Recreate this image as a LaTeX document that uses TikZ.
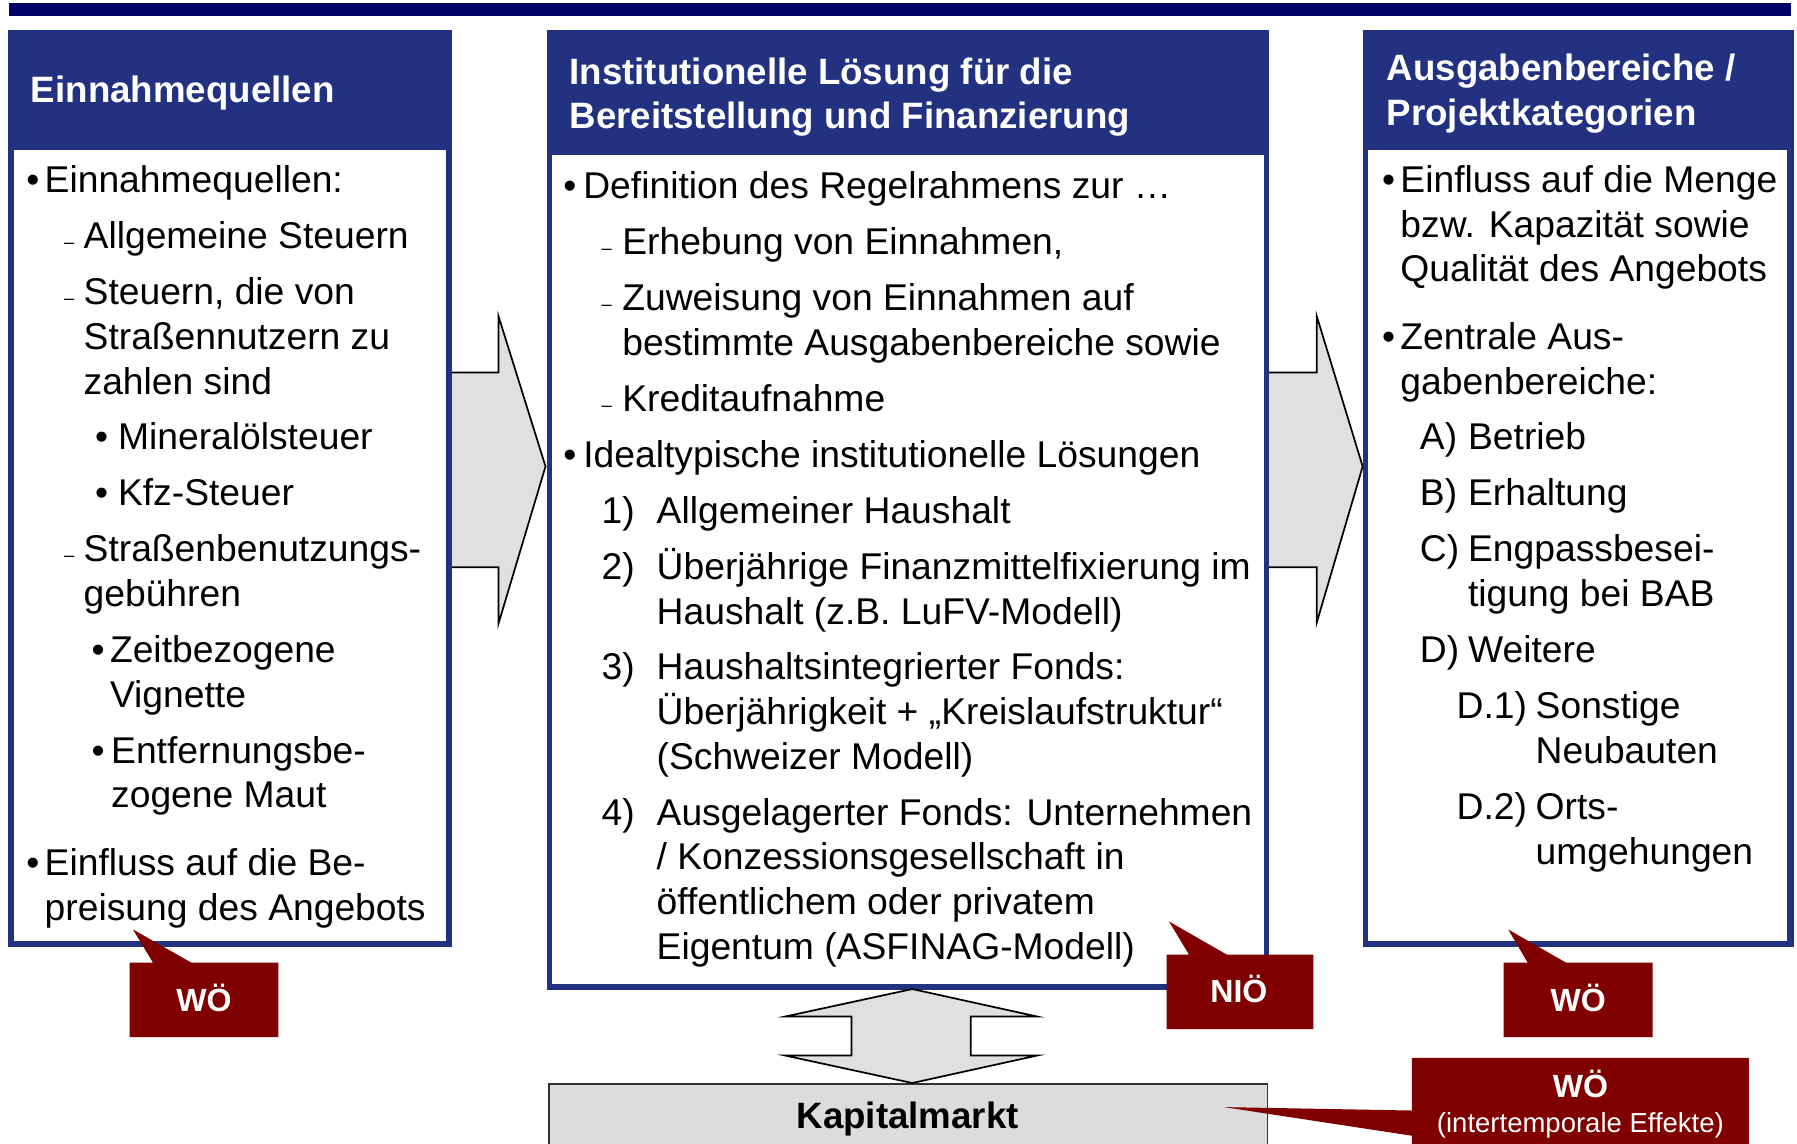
\documentclass[tikz,border=0pt]{standalone}
\usepackage{fontspec}
\setmainfont{Liberation Sans}
\definecolor{hdr}{RGB}{35,50,128}
\definecolor{navy}{RGB}{0,0,102}
\definecolor{dred}{RGB}{128,0,0}
\definecolor{agray}{RGB}{224,224,224}
\definecolor{kgray}{RGB}{220,220,220}
\tikzset{
 body/.style={anchor=base west, inner sep=0pt, outer sep=0pt, font=\fontsize{32.5}{39}\selectfont, text=black},
 hd/.style={anchor=base west, inner sep=0pt, outer sep=0pt, font=\bfseries\fontsize{32}{40}\selectfont, text=white},
 dsh/.style={anchor=base west, inner sep=0pt, outer sep=0pt, font=\fontsize{16}{16}\selectfont},
 tag/.style={anchor=base, inner sep=0pt, outer sep=0pt, font=\bfseries\fontsize{28}{30}\selectfont, text=white},
 blk/.style={fill=agray, draw=black, line width=1.5pt, line join=miter},
 hbox/.style={fill=hdr},
 wbox/.style={fill=white},
 callout/.style={fill=dred},
}
\begin{document}
\begin{tikzpicture}[x=1pt,y=-1pt]
\clip (0,0) rectangle (1568,998);
\fill[white] (0,0) rectangle (1568,998);
% top bar
\fill[navy] (8,3) rectangle (1563,14);
% block arrows
\draw[blk] (380,325) -- (435,325) -- (435,276) -- (476,407) -- (435,544) -- (435,495) -- (380,495) -- cycle;
\draw[blk] (1095,325) -- (1149,325) -- (1149,276) -- (1189,407) -- (1149,543) -- (1149,495) -- (1095,495) -- cycle;
% boxes
\fill[hbox] (7,26) rectangle (394,826);
\fill[wbox] (12,131) rectangle (389,821);
\fill[hbox] (477,26) rectangle (1107,864);
\fill[wbox] (481.5,135) rectangle (1103,859);
\fill[hbox] (1189,26) rectangle (1565,826);
\fill[wbox] (1194,131) rectangle (1559.5,821);
% Kapitalmarkt
\draw[fill=kgray, draw=black!80, line width=1.5pt] (479,946) rectangle (1106,1012);
\node[anchor=base, inner sep=0pt, font=\bfseries\fontsize{32}{36}\selectfont] (K) at (792,985) {Kapitalmarkt};
% double arrow
\draw[blk] (796,863) -- (905,887) -- (847,887) -- (847,921) -- (905,921) -- (796,945) -- (685,921) -- (743,921) -- (743,887) -- (685,887) -- cycle;
% headers
\begin{scope}[yshift=-2.5pt]
\node[hd] (H1) at (27,87) {Einnahmequellen};
\node[hd] (H2a) at (497,71) {Institutionelle Lösung für die};
\node[hd] (H2b) at (497,110) {Bereitstellung und Finanzierung};
\node[hd] (H3a) at (1210,68) {Ausgabenbereiche /};
\node[hd] (H3b) at (1210,107) {Projektkategorien};
\end{scope}
\begin{scope}[yshift=-1pt]
% left body
\node[body] (Lb1) at (23,167) {•};
\node[body] (L1) at (39,167) {Einnahmequellen:};
\node[dsh] (Ld2) at (56,216) {–};
\node[body] (L2) at (73,216) {Allgemeine Steuern};
\node[dsh] (Ld3) at (56,265) {–};
\node[body] (L3a) at (73,265) {Steuern, die von};
\node[body] (L3b) at (73,304) {Straßennutzern zu};
\node[body] (L3c) at (73,343) {zahlen sind};
\node[body] (Lb4) at (83,391) {•};
\node[body] (L4) at (103,391) {Mineralölsteuer};
\node[body] (Lb5) at (83,440) {•};
\node[body] (L5) at (103,440) {Kfz-Steuer};
\node[dsh] (Ld6) at (56,489) {–};
\node[body] (L6a) at (73,489) {Straßenbenutzungs-};
\node[body] (L6b) at (73,528) {gebühren};
\node[body] (Lb7) at (80,577) {•};
\node[body] (L7a) at (96,577) {Zeitbezogene};
\node[body] (L7b) at (96,616) {Vignette};
\node[body] (Lb8) at (80,665) {•};
\node[body] (L8a) at (97,665) {Entfernungsbe-};
\node[body] (L8b) at (97,704) {zogene Maut};
\node[body] (Lb9) at (23,763) {•};
\node[body] (L9a) at (39,763) {Einfluss auf die Be-};
\node[body] (L9b) at (39,802) {preisung des Angebots};
% middle body
\node[body] (Mb1) at (491.5,172) {•};
\node[body] (M1) at (509,172) {Definition des Regelrahmens zur …};
\node[dsh] (Md2) at (525,221) {–};
\node[body] (M2) at (543,221) {Erhebung von Einnahmen,};
\node[dsh] (Md3) at (525,270) {–};
\node[body] (M3a) at (543,270) {Zuweisung von Einnahmen auf};
\node[body] (M3b) at (543,309) {bestimmte Ausgabenbereiche sowie};
\node[dsh] (Md4) at (525,358) {–};
\node[body] (M4) at (543,358) {Kreditaufnahme};
\node[body] (Mb5) at (491.5,407) {•};
\node[body] (M5) at (509,407) {Idealtypische institutionelle Lösungen};
\node[body] (Mn6) at (525,456) {1)};
\node[body] (M6) at (573,456) {Allgemeiner Haushalt};
\node[body] (Mn7) at (525,505) {2)};
\node[body] (M7a) at (573,505) {Überjährige Finanzmittelfixierung im};
\node[body] (M7b) at (573,544) {Haushalt (z.B. LuFV-Modell)};
\node[body] (Mn8) at (525,592) {3)};
\node[body] (M8a) at (573,592) {Haushaltsintegrierter Fonds:};
\node[body] (M8b) at (573,631) {Überjährigkeit + „Kreislaufstruktur“};
\node[body] (M8c) at (573,670) {(Schweizer Modell)};
\node[body] (Mn9) at (525,719) {4)};
\node[body] (M9a) at (573,719) {Ausgelagerter Fonds: Unternehmen};
\node[body] (M9b) at (573,758) {/ Konzessionsgesellschaft in};
\node[body] (M9c) at (573,797) {öffentlichem oder privatem};
\node[body] (M9d) at (573,836) {Eigentum (ASFINAG-Modell)};
% right body
\node[body] (Rb1) at (1206,167) {•};
\node[body] (R1a) at (1222,167) {Einfluss auf die Menge};
\node[body] (R1b) at (1222,206) {bzw. Kapazität sowie};
\node[body] (R1c) at (1222,245) {Qualität des Angebots};
\node[body] (Rb2) at (1206,304) {•};
\node[body] (R2a) at (1222,304) {Zentrale Aus-};
\node[body] (R2b) at (1222,343) {gabenbereiche:};
\node[body] (RnA) at (1239,391) {A)};
\node[body] (RA) at (1281,391) {Betrieb};
\node[body] (RnB) at (1239,440) {B)};
\node[body] (RB) at (1281,440) {Erhaltung};
\node[body] (RnC) at (1239,489) {C)};
\node[body] (RCa) at (1281,489) {Engpassbesei-};
\node[body] (RCb) at (1281,528) {tigung bei BAB};
\node[body] (RnD) at (1239,577) {D)};
\node[body] (RD) at (1281,577) {Weitere};
\node[body] (RnD1) at (1271,626) {D.1)};
\node[body] (RD1a) at (1340,626) {Sonstige};
\node[body] (RD1b) at (1340,665) {Neubauten};
\node[body] (RnD2) at (1271,714) {D.2)};
\node[body] (RD2a) at (1340,714) {Orts-};
\node[body] (RD2b) at (1340,753) {umgehungen};
\end{scope}
% callouts
\fill[callout] (113,840) -- (133.5,840) -- (116,811) -- (167,840) -- (243,840) -- (243,905) -- (113,905) -- cycle;
\node[tag] (T1) at (178,883) {WÖ};
\fill[callout] (1018,833) -- (1037.5,833) -- (1020,804) -- (1070.5,833) -- (1146,833) -- (1146,898) -- (1018,898) -- cycle;
\node[tag] (T2) at (1081,875) {NIÖ};
\fill[callout] (1312,840) -- (1333,840) -- (1316,811) -- (1366.5,840) -- (1442,840) -- (1442,905) -- (1312,905) -- cycle;
\node[tag] (T3) at (1377,883) {WÖ};
\fill[callout] (1232,923) -- (1526,923) -- (1526,1012) -- (1232,1012) -- (1232,991) -- (1068,966) -- (1232,969) -- cycle;
\node[tag] (T4) at (1379,958) {WÖ};
\node[anchor=base, inner sep=0pt, text=white, font=\fontsize{24}{26}\selectfont] (T4b) at (1379,988) {(intertemporale Effekte)};
\end{tikzpicture}
\end{document}
